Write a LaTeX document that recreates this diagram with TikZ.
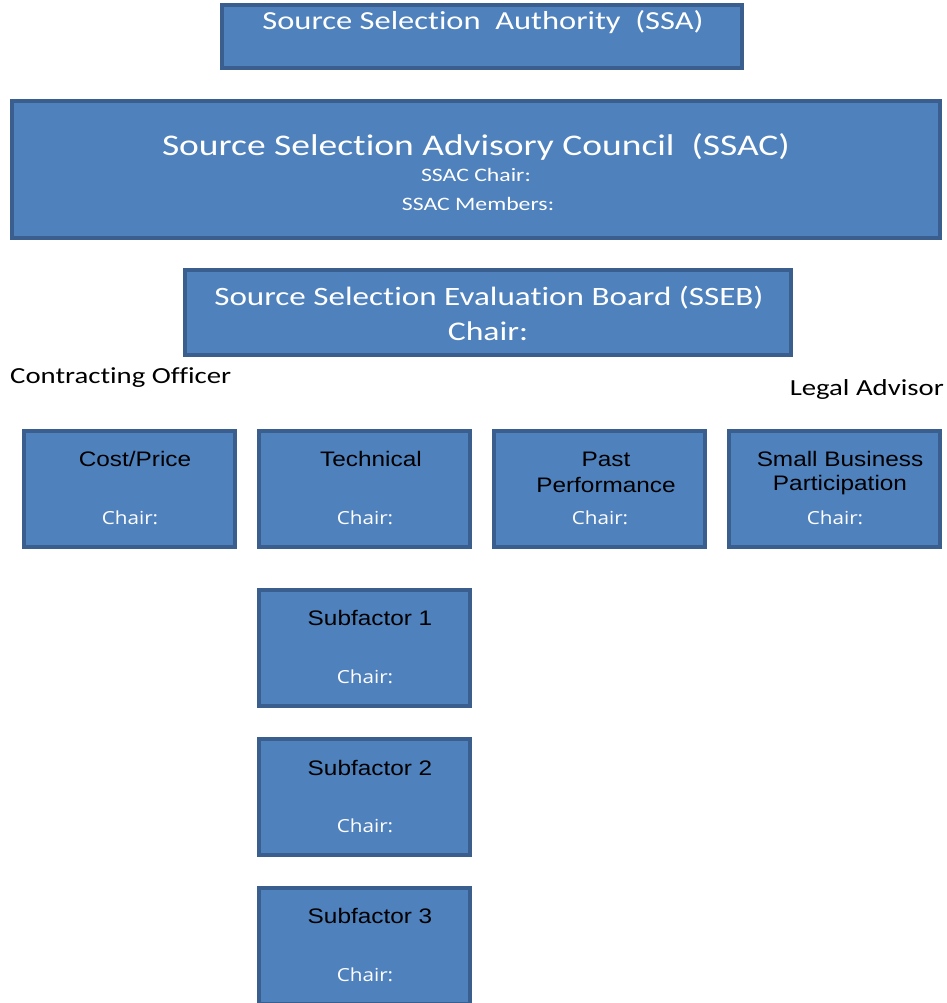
\documentclass[tikz,border=0pt]{standalone}
\usepackage{fontspec}
\newfontfamily\calfont[FakeStretch=1.25,Ligatures=NoCommon]{Carlito}
\newfontfamily\arifont[FakeStretch=1.16]{Liberation Sans}
\newfontfamily\opnfont[FakeStretch=1.15]{Open Sans}
\definecolor{boxfill}{HTML}{4F81BD}
\definecolor{boxline}{HTML}{3A5F8F}
\begin{document}
\begin{tikzpicture}[x=1pt,y=-1pt,
  box/.style={draw=boxline,fill=boxfill,line width=4pt,inner sep=0pt,outer sep=0pt},
  big/.style={text=white,font=\calfont\fontsize{26}{30}\selectfont,inner sep=0pt},
  small/.style={text=white,font=\calfont\fontsize{19}{22}\selectfont,inner sep=0pt},
  ttl/.style={text=black,font=\arifont\fontsize{21}{24}\selectfont,inner sep=0pt},
  chr/.style={text=white,font=\opnfont\fontsize{18}{22}\selectfont,inner sep=0pt},
  lbl/.style={text=black,font=\calfont\fontsize{23}{26}\selectfont,inner sep=0pt}]
\useasboundingbox (0,0) rectangle (946,1003);
% SSA
\node[box,minimum width=520,minimum height=63] (ssa) at (482,36.5) {};
\node[big] (ssat) at (483,22) {Source Selection\ \ Authority\ \ (SSA)};
% SSAC
\node[box,minimum width=928,minimum height=137] (ssac) at (476,169.5) {};
\node[big,font=\calfont\fontsize{30}{34}\selectfont] (ssact) at (476,147) {Source Selection\ Advisory Council\ \ (SSAC)};
\node[small] (ssacc) at (476,175) {SSAC Chair:};
\node[small] (ssacm) at (478,204) {SSAC Members:};
% SSEB
\node[box,minimum width=606,minimum height=85] (sseb) at (488,312.5) {};
\node[big,font=\calfont\fontsize{26.5}{31}\selectfont] (ssebt) at (489,298) {Source Selection\ Evaluation Board (SSEB)};
\node[big,font=\calfont\fontsize{27}{31}\selectfont] (ssebc) at (488,331) {Chair:};
% labels
\node[lbl,anchor=west] (co) at (10,378) {Contracting\ Officer};
\node[lbl,anchor=east] (la) at (944,389) {Legal Advisor};
% row
\node[box,minimum width=211,minimum height=116] (cp) at (129.5,489) {};
\node[ttl] (cpt) at (135,459) {Cost/Price};
\node[chr] (cpc) at (130,518) {Chair:};
\node[box,minimum width=211,minimum height=116] (tech) at (364.5,489) {};
\node[ttl] (techt) at (371,459) {Technical};
\node[chr] (techc) at (365,518) {Chair:};
\node[box,minimum width=211,minimum height=116] (pp) at (599.5,489) {};
\node[ttl] (ppt1) at (606,459) {Past};
\node[ttl] (ppt2) at (606,485) {Performance};
\node[chr] (ppc) at (600,518) {Chair:};
\node[box,minimum width=211,minimum height=116] (sb) at (834.5,489) {};
\node[ttl] (sbt1) at (840,459) {Small Business};
\node[ttl] (sbt2) at (840,485) {Participation};
\node[chr] (sbc) at (835,518) {Chair:};
% subfactors
\node[box,minimum width=211,minimum height=116] (s1) at (364.5,648) {};
\node[ttl] (s1t) at (370,618) {Subfactor 1};
\node[chr] (s1c) at (365,677) {Chair:};
\node[box,minimum width=211,minimum height=116] (s2) at (364.5,797) {};
\node[ttl] (s2t) at (370,768) {Subfactor 2};
\node[chr] (s2c) at (365,826) {Chair:};
\node[box,minimum width=211,minimum height=116] (s3) at (364.5,946) {};
\node[ttl] (s3t) at (370,916) {Subfactor 3};
\node[chr] (s3c) at (365,975) {Chair:};
\end{tikzpicture}
\end{document}
